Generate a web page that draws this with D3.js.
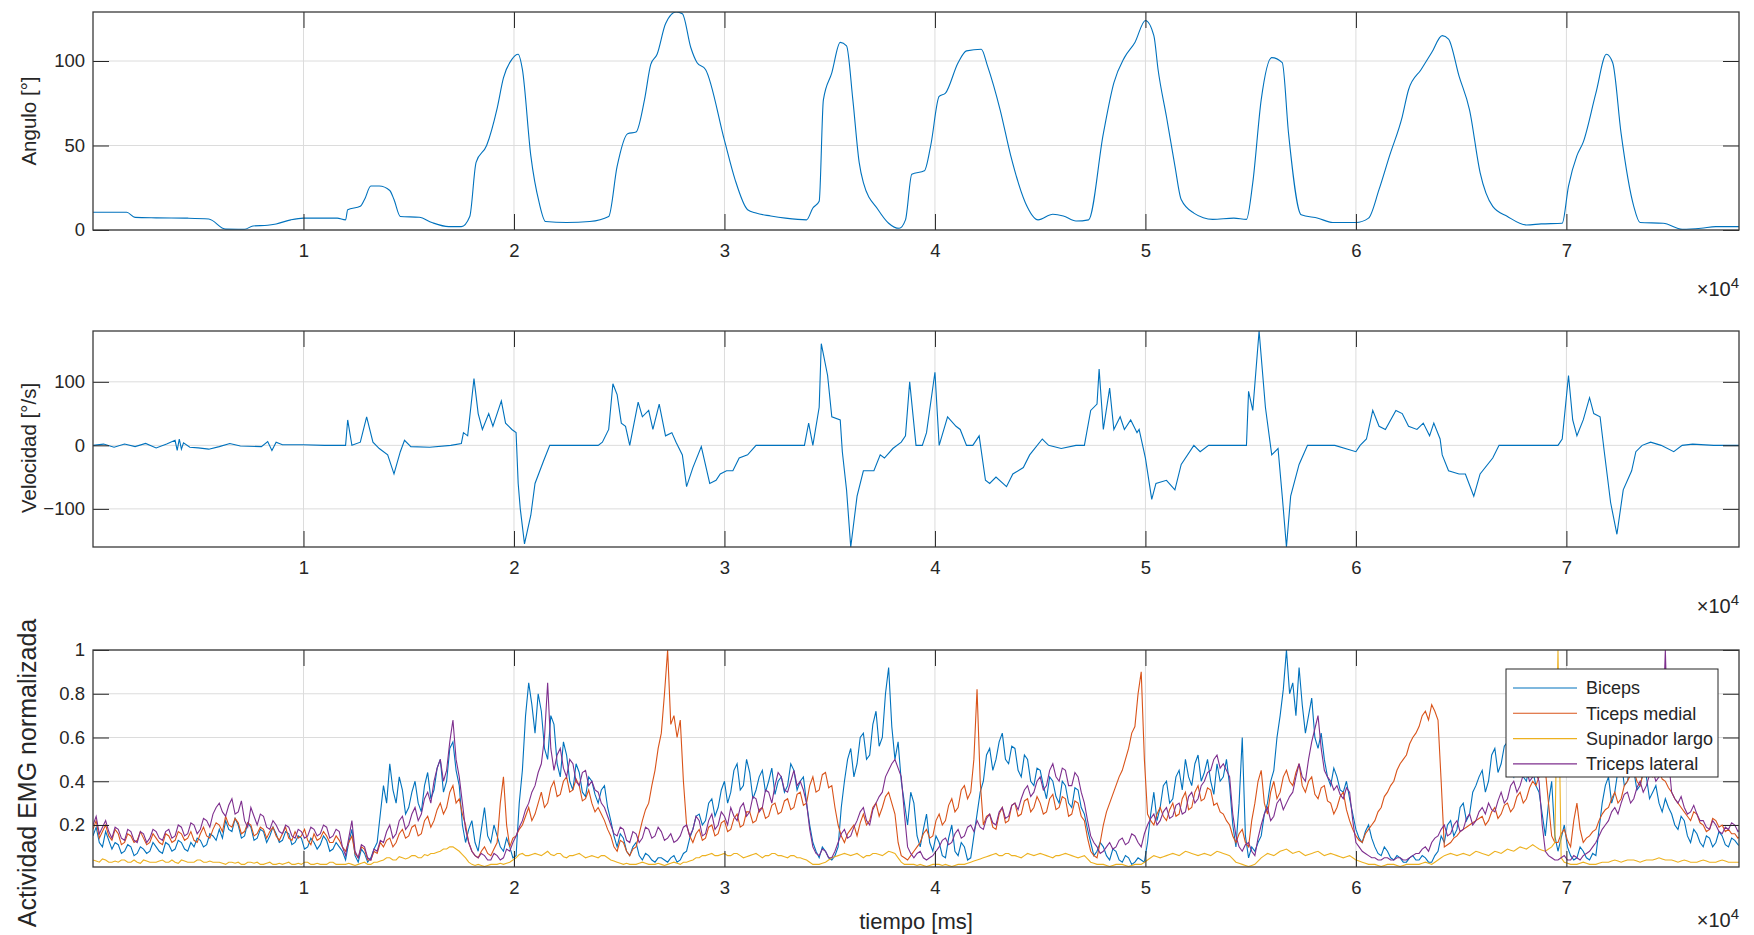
<!DOCTYPE html>
<html>
<head>
<meta charset="utf-8">
<script src="https://cdn.jsdelivr.net/npm/d3@7"></script>
<style>
  html, body { margin: 0; padding: 0; background: #ffffff; }
  svg { display: block; }
  text { font-family: "Liberation Sans", Arial, Helvetica, sans-serif; fill: #262626; }
</style>
</head>
<body>
<svg id="chart" width="1754" height="935"></svg>
<script>
// ---------- data ----------
const xTickValues = [10000, 20000, 30000, 40000, 50000, 60000, 70000];
const xTickLabels = ["1", "2", "3", "4", "5", "6", "7"];

// elbow angle [deg] vs time [ms]
const angleT = [0,1600,2000,3000,4500,5500,6300,7200,7600,8300,8700,9400,10000,11600,12000,12100,12700,12900,13200,13600,14100,14300,14600,15500,16100,16900,17500,17900,18200,18700,19200,19500,19900,20200,20400,20800,21200,21500,22500,23600,24500,24900,25400,25800,26200,26500,26800,27200,27700,28000,28400,28700,29100,30000,30500,31100,31500,32200,32900,33900,34200,34500,34700,35100,35500,35800,36100,36400,36600,37300,37800,38300,38600,38900,39500,39800,40200,40500,41100,41500,42200,42500,43100,43600,44300,44900,45600,46100,46700,47300,48000,48500,49000,49500,50000,50400,50600,51000,51400,51700,52300,53200,54200,54800,55100,55500,56000,56500,56800,57400,58200,58900,60000,60600,61100,61600,62200,62500,63100,63600,64100,64400,64900,65400,65900,66500,67200,68100,68800,69800,70100,70500,70800,71400,71900,72200,72600,73200,73500,74600,75500,76400,77100,78200];
const angleV = [10.5,10.5,7.5,7.2,7,6.5,0.5,0.4,2.4,2.8,3.6,6,7,7,6,12,14,18,26,26,23.4,18,8,7.5,4.4,2,2,8,40,50,72,90,101,104,95,44,16,5,4.4,5,8,37.6,57,58,77,98,104,122,129,128,108,99,95,53,30,12,10,8.3,7,6,13,17,77,93,111,109,77,40,28,12,4,1,6,33,35,50,79,81,99,106,107,97,71,44,16,6,9.3,8.3,5.3,6,57,87,102,111,124,115,95,67,38,18,10,6.3,7,6.3,28,77,102,99,57,9,7,4.4,4.4,7,24,44,67,83,95,105,115,113,91,71,34,14,8,3,3.6,4,26,44,52,81,104,99,57,14,4.4,4,0.4,1,2,2];

// angular velocity [deg/s] vs time [ms]
const velT = [0,500,1000,1500,2000,2500,3000,3500,3900,4000,4100,4200,4300,4600,5000,5500,6000,6500,7000,8000,8300,8500,8700,9000,10000,11000,12000,12100,12300,12700,13000,13300,13600,14000,14300,14600,14800,15100,16000,17000,17500,17600,17800,18100,18300,18500,18800,19000,19400,19600,19900,20100,20200,20300,20500,20800,21000,21400,21700,23000,24000,24200,24500,24700,24900,25100,25300,25500,25900,26100,26400,26600,26900,27200,27500,27700,28000,28200,28500,28900,29300,29600,29800,30100,30400,30700,31100,31500,33800,34000,34200,34500,34600,34900,35100,35500,35600,35800,36000,36300,36600,37100,37400,37600,38000,38400,38600,38800,39100,39400,39600,40000,40200,40600,41000,41200,41500,41800,42100,42400,42600,42900,43400,43700,44200,44500,45100,45400,46000,46700,47100,47400,47700,47800,48000,48300,48500,48800,49000,49300,49600,49700,50000,50300,50500,51000,51400,51700,52300,52600,53000,54800,54900,55100,55400,55700,56000,56300,56500,56700,56900,57300,57700,59000,60000,60200,60500,60800,61100,61400,61900,62200,62500,62900,63200,63500,63700,64000,64100,64400,64900,65200,65600,65900,66500,66800,68000,69600,69800,70100,70300,70500,70800,71100,71300,71600,71800,72100,72400,72700,73100,73300,73600,74000,74500,75100,75500,76000,77000,78200];
const velV = [0,2,-3,2,-2,3,-4,2,8,-8,10,-6,4,-3,-4,-6,-2,3,-1,-2,6,-8,5,1,1,0,0,40,0,5,45,5,-5,-15,-45,-10,8,-2,-3,0,3,20,15,105,50,25,50,30,70,35,25,20,-60,-100,-155,-110,-60,-25,0,0,0,5,25,97,80,35,30,0,68,45,55,25,65,15,20,5,-15,-65,-35,-2,-60,-55,-45,-40,-40,-20,-15,0,0,35,0,60,160,110,45,40,-10,-70,-160,-80,-40,-40,-15,-20,-5,5,15,100,0,0,20,115,0,45,30,25,0,0,15,-55,-60,-50,-65,-45,-35,-15,10,0,-5,0,0,55,65,120,25,90,25,45,25,40,20,25,-20,-85,-60,-55,-70,-30,0,-10,0,0,85,55,180,60,-15,-5,-80,-160,-80,-30,0,0,-10,0,10,55,30,25,55,50,30,25,35,15,35,10,-15,-40,-45,-45,-80,-45,-20,0,0,0,10,110,40,15,40,75,50,45,-10,-90,-140,-70,-40,-10,0,5,0,-10,0,2,0,0];

// normalised EMG, one sample every 150 ms starting at 0 ms (20 samples per line = 3 s)
const emgStep = 150;
const emgBiceps = [
  0.15,0.19,0.12,0.10,0.17,0.13,0.09,0.12,0.11,0.07,0.08,0.11,0.10,0.06,0.07,0.10,0.09,0.07,0.08,0.12,
  0.10,0.08,0.07,0.12,0.11,0.08,0.09,0.13,0.12,0.09,0.08,0.12,0.10,0.14,0.13,0.10,0.11,0.16,0.15,0.13,
  0.18,0.14,0.22,0.18,0.17,0.23,0.20,0.14,0.15,0.21,0.19,0.13,0.14,0.18,0.17,0.12,0.15,0.19,0.16,0.12,
  0.13,0.17,0.16,0.11,0.12,0.15,0.14,0.09,0.10,0.14,0.12,0.09,0.11,0.15,0.13,0.08,0.09,0.12,0.10,0.08,
  0.04,0.12,0.18,0.06,0.03,0.09,0.07,0.03,0.05,0.09,0.12,0.25,0.38,0.30,0.48,0.36,0.30,0.42,0.36,0.25,
  0.28,0.35,0.40,0.30,0.26,0.38,0.44,0.32,0.36,0.46,0.50,0.35,0.40,0.55,0.58,0.45,0.38,0.20,0.12,0.18,
  0.22,0.12,0.08,0.18,0.28,0.15,0.12,0.20,0.15,0.10,0.08,0.14,0.10,0.05,0.06,0.30,0.45,0.70,0.85,0.75,
  0.62,0.80,0.72,0.55,0.50,0.70,0.66,0.48,0.42,0.58,0.52,0.40,0.36,0.48,0.44,0.35,0.33,0.42,0.40,0.34,
  0.30,0.36,0.38,0.28,0.22,0.15,0.10,0.16,0.14,0.08,0.06,0.10,0.12,0.06,0.04,0.07,0.06,0.04,0.03,0.05,
  0.05,0.04,0.03,0.05,0.06,0.03,0.04,0.07,0.08,0.14,0.18,0.24,0.25,0.20,0.22,0.30,0.32,0.24,0.28,0.36,
  0.40,0.30,0.35,0.45,0.48,0.36,0.38,0.50,0.44,0.32,0.36,0.42,0.45,0.35,0.40,0.46,0.34,0.40,0.42,0.35,
  0.38,0.48,0.45,0.36,0.40,0.42,0.30,0.20,0.12,0.08,0.05,0.10,0.08,0.05,0.04,0.06,0.10,0.28,0.40,0.50,
  0.55,0.42,0.48,0.60,0.62,0.50,0.52,0.66,0.72,0.56,0.60,0.80,0.92,0.65,0.50,0.58,0.40,0.30,0.20,0.35,
  0.30,0.15,0.10,0.18,0.25,0.12,0.08,0.15,0.12,0.06,0.05,0.14,0.20,0.08,0.06,0.12,0.10,0.04,0.05,0.15,
  0.25,0.35,0.40,0.52,0.55,0.45,0.50,0.58,0.62,0.50,0.48,0.56,0.55,0.45,0.42,0.52,0.50,0.40,0.38,0.46,
  0.45,0.38,0.32,0.42,0.40,0.33,0.30,0.40,0.38,0.30,0.28,0.37,0.36,0.28,0.25,0.18,0.12,0.06,0.08,0.12,
  0.10,0.06,0.04,0.09,0.08,0.04,0.03,0.06,0.05,0.02,0.03,0.05,0.04,0.03,0.12,0.25,0.35,0.22,0.28,0.38,
  0.40,0.30,0.32,0.42,0.45,0.36,0.50,0.42,0.38,0.48,0.52,0.40,0.44,0.50,0.40,0.34,0.48,0.40,0.42,0.50,
  0.38,0.20,0.10,0.30,0.60,0.15,0.05,0.10,0.08,0.12,0.15,0.25,0.30,0.40,0.45,0.60,0.70,0.82,1.00,0.80,
  0.85,0.70,0.92,0.75,0.62,0.70,0.78,0.60,0.55,0.62,0.50,0.42,0.38,0.46,0.42,0.36,0.35,0.40,0.32,0.25,
  0.18,0.14,0.12,0.17,0.20,0.14,0.10,0.07,0.06,0.10,0.08,0.05,0.04,0.06,0.05,0.03,0.03,0.05,0.06,0.04,
  0.04,0.06,0.05,0.03,0.03,0.06,0.08,0.15,0.12,0.20,0.22,0.15,0.18,0.28,0.30,0.22,0.25,0.35,0.38,0.42,
  0.45,0.35,0.40,0.52,0.55,0.44,0.48,0.56,0.58,0.45,0.42,0.50,0.52,0.42,0.40,0.48,0.45,0.38,0.35,0.25,
  0.15,0.30,0.40,0.15,0.08,0.14,0.20,0.10,0.06,0.04,0.05,0.10,0.08,0.05,0.04,0.07,0.06,0.18,0.30,0.38,
  0.42,0.30,0.35,0.45,0.50,0.38,0.40,0.48,0.45,0.36,0.38,0.44,0.42,0.32,0.35,0.38,0.30,0.26,0.32,0.28,
  0.25,0.20,0.18,0.24,0.22,0.15,0.12,0.18,0.16,0.12,0.10,0.15,0.14,0.10,0.12,0.17,0.15,0.11,0.10,0.14,
  0.13,0.11,0.10
];
const emgTicepsMedial = [
  0.18,0.22,0.14,0.17,0.20,0.15,0.13,0.18,0.16,0.11,0.12,0.16,0.15,0.12,0.13,0.17,0.14,0.11,0.12,0.16,
  0.14,0.12,0.11,0.16,0.15,0.12,0.13,0.17,0.16,0.13,0.14,0.17,0.13,0.12,0.16,0.19,0.15,0.14,0.18,0.21,
  0.20,0.17,0.24,0.20,0.19,0.23,0.21,0.16,0.17,0.21,0.20,0.15,0.16,0.19,0.18,0.14,0.17,0.19,0.15,0.13,
  0.16,0.19,0.14,0.13,0.17,0.14,0.15,0.18,0.13,0.11,0.16,0.13,0.14,0.17,0.15,0.12,0.12,0.15,0.13,0.10,
  0.08,0.12,0.15,0.07,0.05,0.10,0.09,0.04,0.04,0.08,0.07,0.12,0.10,0.13,0.14,0.10,0.12,0.16,0.18,0.14,
  0.15,0.19,0.20,0.15,0.16,0.22,0.24,0.19,0.22,0.27,0.30,0.25,0.28,0.35,0.38,0.30,0.32,0.25,0.20,0.12,
  0.08,0.06,0.05,0.08,0.10,0.07,0.06,0.09,0.12,0.30,0.42,0.20,0.10,0.14,0.15,0.18,0.20,0.24,0.28,0.22,
  0.25,0.30,0.35,0.28,0.30,0.37,0.40,0.33,0.34,0.40,0.42,0.35,0.36,0.41,0.38,0.31,0.32,0.36,0.30,0.26,
  0.28,0.25,0.22,0.18,0.15,0.10,0.08,0.13,0.12,0.08,0.06,0.09,0.10,0.16,0.22,0.27,0.30,0.38,0.45,0.55,
  0.62,0.80,1.00,0.66,0.70,0.60,0.68,0.40,0.20,0.15,0.12,0.16,0.18,0.13,0.14,0.19,0.20,0.15,0.16,0.21,
  0.22,0.17,0.18,0.23,0.25,0.19,0.20,0.26,0.26,0.21,0.22,0.27,0.28,0.23,0.24,0.29,0.30,0.25,0.26,0.31,
  0.32,0.27,0.28,0.34,0.35,0.29,0.30,0.38,0.42,0.35,0.36,0.43,0.44,0.37,0.38,0.28,0.20,0.15,0.12,0.16,
  0.18,0.20,0.15,0.21,0.25,0.20,0.22,0.28,0.30,0.24,0.28,0.33,0.35,0.30,0.25,0.12,0.06,0.05,0.04,0.06,
  0.08,0.10,0.12,0.16,0.18,0.14,0.15,0.22,0.25,0.20,0.22,0.29,0.32,0.26,0.28,0.36,0.38,0.32,0.35,0.50,
  0.82,0.40,0.20,0.24,0.25,0.19,0.18,0.25,0.28,0.21,0.22,0.29,0.30,0.24,0.25,0.31,0.32,0.26,0.28,0.33,
  0.30,0.25,0.26,0.32,0.34,0.27,0.28,0.33,0.32,0.24,0.25,0.31,0.30,0.24,0.22,0.14,0.08,0.06,0.05,0.12,
  0.20,0.26,0.30,0.34,0.38,0.42,0.45,0.50,0.55,0.62,0.65,0.80,0.90,0.50,0.25,0.22,0.20,0.25,0.28,0.24,
  0.22,0.27,0.30,0.24,0.25,0.32,0.35,0.27,0.28,0.35,0.38,0.31,0.32,0.37,0.36,0.29,0.30,0.26,0.25,0.22,
  0.20,0.15,0.12,0.16,0.18,0.12,0.10,0.22,0.30,0.40,0.45,0.30,0.25,0.35,0.40,0.32,0.35,0.42,0.45,0.40,
  0.38,0.44,0.48,0.38,0.35,0.40,0.42,0.34,0.32,0.37,0.38,0.31,0.30,0.25,0.28,0.33,0.35,0.27,0.22,0.18,
  0.15,0.13,0.12,0.16,0.18,0.20,0.22,0.26,0.28,0.33,0.35,0.38,0.40,0.45,0.48,0.50,0.52,0.57,0.60,0.62,
  0.65,0.70,0.72,0.68,0.75,0.72,0.68,0.40,0.10,0.11,0.12,0.14,0.15,0.17,0.18,0.19,0.20,0.21,0.22,0.23,
  0.24,0.20,0.22,0.26,0.28,0.23,0.25,0.29,0.30,0.26,0.28,0.33,0.35,0.30,0.32,0.37,0.40,0.38,0.42,0.46,
  0.45,0.30,0.15,0.12,0.12,0.16,0.18,0.13,0.10,0.22,0.30,0.18,0.12,0.14,0.15,0.17,0.18,0.22,0.25,0.27,
  0.28,0.32,0.35,0.30,0.32,0.38,0.40,0.43,0.45,0.40,0.38,0.44,0.48,0.43,0.42,0.46,0.45,0.41,0.40,0.37,
  0.35,0.32,0.30,0.28,0.26,0.24,0.22,0.26,0.25,0.21,0.20,0.17,0.18,0.23,0.22,0.19,0.20,0.17,0.18,0.16,
  0.16,0.14,0.15
];
const emgSupinador = [
  0.04,0.035,0.03,0.045,0.04,0.03,0.03,0.035,0.03,0.04,0.04,0.03,0.03,0.04,0.03,0.025,0.04,0.035,0.03,0.03,
  0.03,0.035,0.04,0.03,0.03,0.04,0.03,0.025,0.04,0.035,0.03,0.03,0.03,0.04,0.04,0.03,0.03,0.035,0.03,0.03,
  0.03,0.025,0.02,0.03,0.03,0.025,0.03,0.02,0.02,0.03,0.03,0.025,0.03,0.02,0.02,0.025,0.03,0.02,0.02,0.025,
  0.02,0.025,0.03,0.02,0.02,0.025,0.02,0.03,0.03,0.02,0.02,0.025,0.02,0.02,0.02,0.03,0.03,0.02,0.02,0.02,
  0.02,0.025,0.02,0.015,0.02,0.025,0.03,0.02,0.02,0.03,0.03,0.035,0.04,0.05,0.05,0.04,0.04,0.055,0.05,0.045,
  0.05,0.06,0.06,0.05,0.05,0.065,0.06,0.07,0.07,0.075,0.08,0.09,0.09,0.10,0.10,0.09,0.08,0.065,0.05,0.03,
  0.02,0.015,0.02,0.015,0.01,0.015,0.02,0.02,0.02,0.025,0.02,0.025,0.03,0.04,0.05,0.065,0.07,0.06,0.06,0.065,
  0.07,0.065,0.06,0.07,0.08,0.065,0.06,0.07,0.07,0.055,0.05,0.06,0.06,0.065,0.07,0.06,0.05,0.055,0.06,0.055,
  0.05,0.06,0.06,0.05,0.04,0.035,0.03,0.025,0.02,0.025,0.02,0.02,0.02,0.025,0.03,0.025,0.02,0.02,0.02,0.025,
  0.02,0.015,0.02,0.025,0.03,0.025,0.02,0.03,0.03,0.035,0.04,0.05,0.05,0.06,0.06,0.065,0.07,0.06,0.06,0.065,
  0.07,0.06,0.06,0.07,0.07,0.06,0.05,0.055,0.06,0.065,0.07,0.06,0.05,0.06,0.06,0.07,0.07,0.06,0.06,0.055,
  0.05,0.06,0.06,0.05,0.05,0.045,0.04,0.03,0.02,0.02,0.02,0.025,0.03,0.04,0.05,0.055,0.06,0.065,0.07,0.065,
  0.06,0.065,0.07,0.06,0.05,0.06,0.06,0.07,0.07,0.065,0.06,0.07,0.08,0.075,0.07,0.05,0.03,0.02,0.02,0.02,
  0.02,0.015,0.02,0.015,0.01,0.015,0.02,0.02,0.02,0.015,0.02,0.015,0.01,0.015,0.02,0.02,0.02,0.025,0.03,0.035,
  0.04,0.045,0.05,0.055,0.06,0.065,0.07,0.06,0.06,0.07,0.07,0.06,0.06,0.055,0.05,0.06,0.07,0.065,0.06,0.065,
  0.07,0.065,0.06,0.055,0.05,0.06,0.06,0.065,0.07,0.065,0.06,0.055,0.05,0.055,0.06,0.045,0.03,0.025,0.02,0.02,
  0.02,0.015,0.01,0.015,0.02,0.02,0.02,0.015,0.01,0.015,0.02,0.02,0.02,0.03,0.04,0.05,0.06,0.055,0.05,0.055,
  0.06,0.065,0.07,0.065,0.06,0.07,0.08,0.075,0.07,0.065,0.06,0.065,0.07,0.065,0.06,0.07,0.08,0.075,0.07,0.065,
  0.06,0.045,0.03,0.025,0.02,0.015,0.01,0.015,0.02,0.035,0.05,0.06,0.07,0.065,0.06,0.07,0.08,0.085,0.09,0.08,
  0.07,0.075,0.08,0.07,0.06,0.065,0.07,0.075,0.08,0.07,0.06,0.065,0.07,0.065,0.06,0.055,0.05,0.055,0.06,0.05,
  0.04,0.035,0.03,0.025,0.02,0.02,0.02,0.015,0.01,0.015,0.02,0.02,0.02,0.015,0.01,0.015,0.02,0.02,0.02,0.02,
  0.02,0.025,0.03,0.025,0.02,0.03,0.04,0.05,0.06,0.065,0.07,0.065,0.06,0.065,0.07,0.065,0.06,0.07,0.08,0.075,
  0.07,0.065,0.06,0.07,0.08,0.075,0.07,0.08,0.09,0.085,0.08,0.09,0.10,0.095,0.09,0.10,0.11,0.10,0.09,0.085,
  0.08,0.09,0.10,0.12,1.00,0.05,0.03,0.025,0.02,0.02,0.02,0.025,0.03,0.025,0.02,0.02,0.02,0.025,0.03,0.03,
  0.03,0.035,0.04,0.035,0.03,0.035,0.04,0.04,0.04,0.035,0.03,0.035,0.04,0.04,0.04,0.045,0.05,0.045,0.04,0.04,
  0.04,0.035,0.03,0.035,0.04,0.035,0.03,0.03,0.03,0.035,0.04,0.035,0.03,0.03,0.03,0.035,0.04,0.035,0.03,0.03,
  0.03,0.03,0.03
];
const emgTricepsLateral = [
  0.20,0.24,0.16,0.19,0.22,0.17,0.14,0.19,0.18,0.14,0.13,0.18,0.17,0.13,0.12,0.17,0.16,0.12,0.14,0.18,
  0.17,0.14,0.13,0.17,0.18,0.14,0.15,0.20,0.19,0.15,0.16,0.21,0.20,0.16,0.18,0.23,0.22,0.19,0.25,0.28,
  0.30,0.26,0.24,0.29,0.32,0.25,0.26,0.31,0.22,0.19,0.28,0.24,0.20,0.25,0.24,0.19,0.18,0.22,0.20,0.17,
  0.16,0.20,0.19,0.15,0.14,0.18,0.17,0.14,0.15,0.19,0.18,0.15,0.16,0.20,0.19,0.14,0.15,0.18,0.17,0.10,
  0.06,0.14,0.22,0.08,0.05,0.11,0.10,0.05,0.04,0.09,0.08,0.13,0.12,0.17,0.20,0.14,0.16,0.22,0.24,0.18,
  0.20,0.25,0.28,0.22,0.25,0.32,0.35,0.30,0.40,0.46,0.50,0.40,0.45,0.58,0.68,0.50,0.42,0.30,0.18,0.12,
  0.08,0.06,0.05,0.07,0.06,0.04,0.04,0.07,0.06,0.04,0.05,0.09,0.08,0.12,0.15,0.19,0.22,0.27,0.30,0.35,
  0.38,0.44,0.48,0.60,0.85,0.55,0.45,0.52,0.55,0.46,0.42,0.50,0.48,0.40,0.38,0.44,0.45,0.38,0.40,0.36,
  0.35,0.30,0.28,0.24,0.20,0.16,0.15,0.19,0.18,0.13,0.12,0.17,0.16,0.12,0.14,0.19,0.18,0.14,0.15,0.19,
  0.17,0.13,0.14,0.16,0.12,0.13,0.15,0.19,0.20,0.15,0.18,0.24,0.22,0.15,0.16,0.22,0.25,0.18,0.20,0.26,
  0.24,0.20,0.28,0.24,0.22,0.28,0.30,0.24,0.26,0.33,0.32,0.26,0.28,0.36,0.35,0.30,0.38,0.44,0.42,0.36,
  0.35,0.40,0.45,0.38,0.40,0.36,0.30,0.18,0.10,0.07,0.06,0.09,0.08,0.05,0.05,0.08,0.12,0.16,0.18,0.14,
  0.15,0.19,0.22,0.26,0.28,0.22,0.20,0.27,0.30,0.33,0.35,0.42,0.45,0.48,0.50,0.46,0.42,0.25,0.10,0.07,
  0.05,0.07,0.08,0.05,0.04,0.05,0.06,0.08,0.10,0.13,0.14,0.11,0.12,0.16,0.18,0.14,0.15,0.19,0.20,0.17,
  0.22,0.19,0.18,0.23,0.25,0.21,0.20,0.26,0.28,0.23,0.24,0.29,0.30,0.27,0.32,0.36,0.38,0.33,0.35,0.40,
  0.42,0.36,0.38,0.45,0.48,0.42,0.40,0.46,0.45,0.38,0.38,0.44,0.42,0.35,0.30,0.22,0.15,0.12,0.10,0.07,
  0.08,0.10,0.12,0.09,0.10,0.13,0.14,0.11,0.12,0.16,0.15,0.12,0.10,0.16,0.20,0.23,0.25,0.20,0.22,0.26,
  0.28,0.23,0.24,0.29,0.30,0.25,0.26,0.33,0.35,0.30,0.32,0.38,0.40,0.44,0.45,0.50,0.52,0.46,0.48,0.45,
  0.42,0.25,0.15,0.10,0.08,0.11,0.12,0.08,0.06,0.14,0.20,0.25,0.28,0.22,0.24,0.30,0.32,0.27,0.30,0.33,
  0.35,0.42,0.48,0.42,0.40,0.50,0.58,0.64,0.70,0.55,0.45,0.42,0.40,0.36,0.38,0.34,0.32,0.37,0.35,0.22,
  0.12,0.10,0.08,0.07,0.06,0.05,0.05,0.04,0.04,0.05,0.05,0.04,0.04,0.05,0.05,0.04,0.04,0.05,0.06,0.07,
  0.07,0.09,0.10,0.08,0.12,0.14,0.15,0.18,0.20,0.15,0.16,0.20,0.22,0.17,0.18,0.23,0.25,0.20,0.22,0.26,
  0.28,0.25,0.30,0.27,0.26,0.31,0.35,0.30,0.32,0.38,0.40,0.35,0.38,0.43,0.45,0.40,0.42,0.44,0.40,0.20,
  0.08,0.06,0.05,0.04,0.04,0.05,0.06,0.04,0.04,0.06,0.05,0.04,0.06,0.07,0.08,0.10,0.12,0.15,0.18,0.20,
  0.22,0.26,0.28,0.25,0.30,0.34,0.35,0.30,0.32,0.37,0.40,0.35,0.38,0.43,0.45,0.40,0.42,0.55,1.00,0.50,
  0.35,0.32,0.30,0.33,0.28,0.25,0.26,0.29,0.25,0.22,0.22,0.19,0.18,0.22,0.20,0.17,0.16,0.19,0.18,0.21,
  0.20,0.17,0.18
];

const emgNames = ["Biceps", "Ticeps medial", "Supinador largo", "Triceps lateral"];
const emgColors = ["#0072BD", "#D95319", "#EDB120", "#7E2F8E"];

// ---------- layout ----------
const svg = d3.select("#chart");
const plotLeft = 93, plotRight = 1739;
const panels = [
  { top: 12, bottom: 230, domain: [0, 129], ticks: [0, 50, 100], label: "Angulo [°]",
    labelSize: 20.5, labelY: 121, fmt: d3.format("d") },
  { top: 331, bottom: 547, domain: [-160, 180], ticks: [-100, 0, 100], label: "Velocidad [°/s]",
    labelSize: 20.5, labelY: 448, fmt: d3.format("d") },
  { top: 650, bottom: 867, domain: [0.008, 1], ticks: [0.2, 0.4, 0.6, 0.8, 1], label: "Actividad EMG normalizada",
    labelSize: 25, labelY: 773, fmt: d => String(d) }
];
const x = d3.scaleLinear().domain([0, 78200]).range([plotLeft, plotRight]);
const axisColor = "#262626";
const tickLen = 16;

panels.forEach((p, i) => {
  p.y = d3.scaleLinear().domain(p.domain).range([p.bottom, p.top]);
  const h = p.bottom - p.top;
  const g = svg.append("g");

  // grid
  g.append("g").selectAll("line").data(xTickValues).join("line")
    .attr("x1", d => x(d)).attr("x2", d => x(d))
    .attr("y1", p.top).attr("y2", p.bottom)
    .attr("stroke", "#dcdcdc").attr("stroke-width", 1);
  g.append("g").selectAll("line").data(p.ticks).join("line")
    .attr("x1", plotLeft).attr("x2", plotRight)
    .attr("y1", d => p.y(d)).attr("y2", d => p.y(d))
    .attr("stroke", "#dcdcdc").attr("stroke-width", 1);

  svg.append("clipPath").attr("id", "clip" + i)
    .append("rect").attr("x", plotLeft).attr("y", p.top)
    .attr("width", plotRight - plotLeft).attr("height", h);
  p.plot = svg.append("g").attr("clip-path", `url(#clip${i})`);
  p.frame = svg.append("g");

  // axes with inward ticks on all four sides
  const bottomAxis = d3.axisBottom(x).tickValues(xTickValues)
    .tickFormat((d, k) => xTickLabels[k]).tickSize(-tickLen).tickPadding(14);
  const topAxis = d3.axisTop(x).tickValues(xTickValues).tickFormat("").tickSize(-tickLen);
  const leftAxis = d3.axisLeft(p.y).tickValues(p.ticks).tickFormat(p.fmt).tickSize(-tickLen).tickPadding(8);
  const rightAxis = d3.axisRight(p.y).tickValues(p.ticks).tickFormat("").tickSize(-tickLen);

  const ax = [
    p.frame.append("g").attr("transform", `translate(0,${p.bottom})`).call(bottomAxis),
    p.frame.append("g").attr("transform", `translate(0,${p.top})`).call(topAxis),
    p.frame.append("g").attr("transform", `translate(${plotLeft},0)`).call(leftAxis),
    p.frame.append("g").attr("transform", `translate(${plotRight},0)`).call(rightAxis)
  ];
  ax.forEach(a => {
    a.select(".domain").remove();
    a.selectAll(".tick line").attr("stroke", axisColor).attr("stroke-width", 1);
    a.selectAll(".tick text").attr("font-size", 18.5).attr("fill", axisColor)
      .style("font-family", '"Liberation Sans", Arial, sans-serif');
  });
  p.frame.append("rect").attr("x", plotLeft).attr("y", p.top)
    .attr("width", plotRight - plotLeft).attr("height", h)
    .attr("fill", "none").attr("stroke", "#3a3a3a").attr("stroke-width", 1.3);

  // y label
  svg.append("text")
    .attr("transform", `translate(36,${p.labelY}) rotate(-90)`)
    .attr("text-anchor", "middle").attr("font-size", p.labelSize)
    .text(p.label);

  // exponent label
  const ex = svg.append("text").attr("x", plotRight).attr("y", Math.min(p.bottom + 66, 927))
    .attr("text-anchor", "end").attr("font-size", 20);
  ex.append("tspan").text("×10");
  ex.append("tspan").attr("dy", -8).attr("font-size", 15).text("4");
});

// x label
svg.append("text").attr("x", (plotLeft + plotRight) / 2).attr("y", 929)
  .attr("text-anchor", "middle").attr("font-size", 22).text("tiempo [ms]");

// ---------- curves ----------
const lineOf = (yScale, curve) => d3.line().x(d => x(d[0])).y(d => yScale(d[1])).curve(curve || d3.curveLinear);

panels[0].plot.append("path")
  .datum(angleT.map((t, k) => [t, angleV[k]]))
  .attr("d", lineOf(panels[0].y, d3.curveMonotoneX))
  .attr("fill", "none").attr("stroke", "#0072BD").attr("stroke-width", 1.1);

panels[1].plot.append("path")
  .datum(velT.map((t, k) => [t, velV[k]]))
  .attr("d", lineOf(panels[1].y))
  .attr("fill", "none").attr("stroke", "#0072BD").attr("stroke-width", 1.1);

const emgSeries = [emgBiceps, emgTicepsMedial, emgSupinador, emgTricepsLateral];
emgSeries.forEach((vals, s) => {
  panels[2].plot.append("path")
    .datum(vals.map((v, k) => [k * emgStep, v]))
    .attr("d", lineOf(panels[2].y))
    .attr("fill", "none").attr("stroke", emgColors[s]).attr("stroke-width", 1.1);
});
// keep the frame above the curves
panels.forEach(p => p.frame.raise());

// ---------- legend ----------
const lg = svg.append("g").attr("transform", "translate(1506,669)");
lg.append("rect").attr("width", 212).attr("height", 108)
  .attr("fill", "#ffffff").attr("stroke", "#262626").attr("stroke-width", 1);
emgNames.forEach((name, k) => {
  const yy = 19 + k * 25.3;
  lg.append("line").attr("x1", 7).attr("x2", 71).attr("y1", yy).attr("y2", yy)
    .attr("stroke", emgColors[k]).attr("stroke-width", 1.1);
  lg.append("text").attr("x", 80).attr("y", yy).attr("dy", "0.35em")
    .attr("font-size", 18).text(name);
});
</script>
</body>
</html>
